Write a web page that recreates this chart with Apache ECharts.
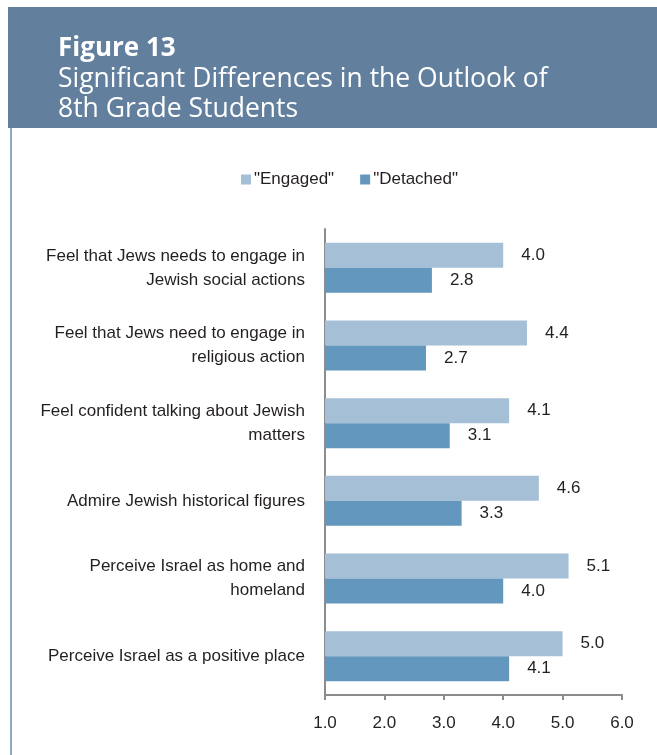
<!DOCTYPE html>
<html><head><meta charset="utf-8">
<script src="https://cdn.jsdelivr.net/npm/echarts@6/dist/echarts.min.js"></script>
<style>html,body{margin:0;padding:0;background:#fff}#c{width:657px;height:755px}</style>
</head><body><div id="c"></div>
<script>
const categories = [
  "Feel that Jews needs to engage in\nJewish social actions",
  "Feel that Jews need to engage in\nreligious action",
  "Feel confident talking about Jewish\nmatters",
  "Admire Jewish historical figures",
  "Perceive Israel as home and\nhomeland",
  "Perceive Israel as a positive place"
];
const engaged = [4.0, 4.4, 4.1, 4.6, 5.1, 5.0];
const detached = [2.8, 2.7, 3.1, 3.3, 4.0, 4.1];
const seriesNames = ['"Engaged"', '"Detached"'];
const xTicks = { min: 1, max: 6, interval: 1 };

const FONT = '"Liberation Sans", sans-serif';
const chart = echarts.init(document.getElementById('c'), null, {renderer: 'canvas'});
chart.setOption({
  animation: false,
  backgroundColor: '#fff',
  graphic: [
    {type: 'rect', shape: {x: 8, y: 7, width: 649, height: 121}, style: {fill: '#62809e'}, z: 0},
    {type: 'rect', shape: {x: 10, y: 128, width: 2, height: 627}, style: {fill: '#8fa8c3'}, z: 0},
    {type: 'text', left: 58, top: 36, style: {text: 'Figure 13', fill: '#fff', font: 'bold 26px "Open Sans", sans-serif'}, z: 5},
    {type: 'text', left: 58, top: 64, style: {text: 'Significant Differences in the Outlook of\n8th Grade Students', fill: '#fff', font: '26.5px "Open Sans", sans-serif', lineHeight: 30}, z: 5}
  ],
  legend: {
    top: 166, left: 236,
    itemWidth: 10, itemHeight: 10, itemGap: 26,
    icon: 'rect',
    textStyle: {fontFamily: FONT, fontSize: 17, color: '#231f20', padding: [0,0,0,-2]},
    data: seriesNames
  },
  grid: {left: 325, right: 35, top: 229, bottom: 60, containLabel: false},
  xAxis: {
    type: 'value', min: xTicks.min, max: xTicks.max, interval: xTicks.interval,
    axisLine: {show: true, lineStyle: {color: '#8c8c8c', width: 2}},
    axisTick: {show: true, length: 5, lineStyle: {color: '#8c8c8c', width: 2}},
    splitLine: {show: false},
    axisLabel: {formatter: v => v.toFixed(1), fontFamily: FONT, fontSize: 17, color: '#231f20', margin: 20}
  },
  yAxis: {
    type: 'category', inverse: true, data: categories,
    axisLine: {show: true, lineStyle: {color: '#8c8c8c', width: 2}},
    axisTick: {show: false},
    axisLabel: {fontFamily: FONT, fontSize: 17, color: '#231f20', margin: 20, align: 'right', lineHeight: 24, padding: [3,0,0,0]}
  },
  series: [
    {name: seriesNames[0], type: 'bar', data: engaged, barWidth: 25, barGap: '0%',
     itemStyle: {color: '#a4bfd6'},
     label: {show: true, position: 'right', distance: 18, formatter: p => p.value.toFixed(1), fontFamily: FONT, fontSize: 17, color: '#231f20'}},
    {name: seriesNames[1], type: 'bar', data: detached, barWidth: 25,
     itemStyle: {color: '#6497bd'},
     label: {show: true, position: 'right', distance: 18, formatter: p => p.value.toFixed(1), fontFamily: FONT, fontSize: 17, color: '#231f20'}}
  ]
});
</script></body></html>
